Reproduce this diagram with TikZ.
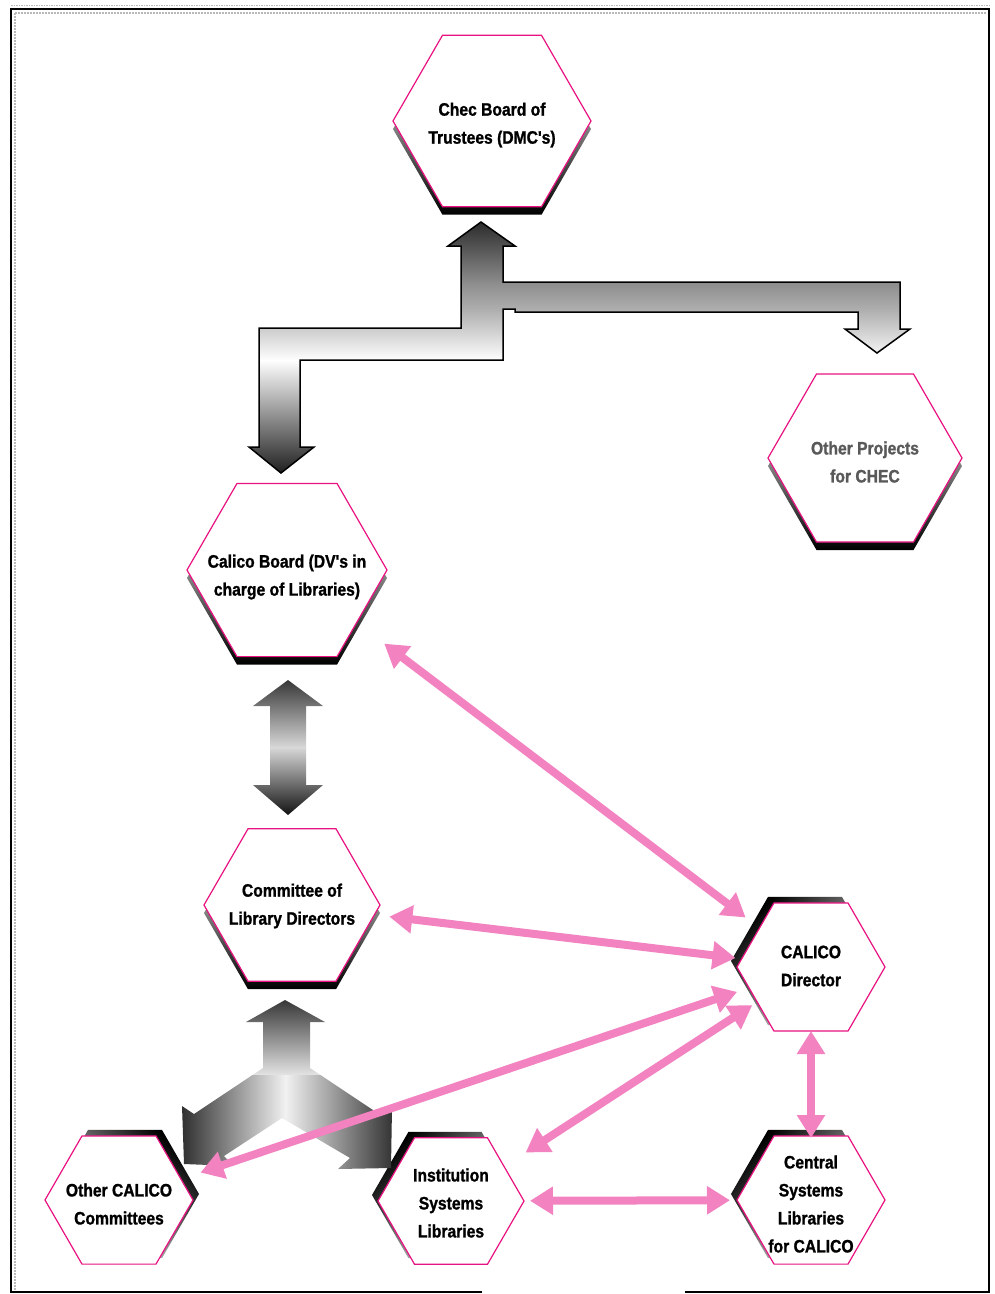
\documentclass[tikz,border=0pt]{standalone}
\usepackage{fontspec}
\newfontfamily\hexfont{Liberation Sans}[FakeStretch=0.87,FakeBold=1.2]
\usetikzlibrary{shapes.geometric,shadows,arrows.meta}

\definecolor{hexpink}{RGB}{232,18,128}
\definecolor{linkpink}{RGB}{242,130,192}

\tikzset{
  hexa/.style={regular polygon, regular polygon sides=6, inner sep=0pt,
    draw=hexpink, line width=1.2pt, fill=white},
  hextext/.style={align=center, inner sep=0pt,
    font=\hexfont\bfseries\fontsize{18}{28}\selectfont},
  dropshadow/.style={general shadow={top color=white, bottom color=black,
    shadow yshift=-8pt}},
  leftshadow/.style={general shadow={top color=black, bottom color=white,
    shading angle=45, shadow xshift=-6pt, shadow yshift=6pt}},
  rightshadow/.style={general shadow={top color=black, bottom color=white,
    shading angle=-45, shadow xshift=6pt, shadow yshift=6pt}},
  pinklink/.style={draw=linkpink, line width=8pt,
    >={Triangle[width=27pt,length=23pt]}, <->},
}

\begin{document}
\begin{tikzpicture}[x=1pt,y=-1pt]
    \useasboundingbox (0,0) rectangle (995,1294);
    %draw frame
    \draw[gray!55, line width=1.5pt, densely dotted] (11,5.5) -- (989,5.5);
    \draw[gray!55, line width=2pt, densely dotted] (14.5,1290) -- (14.5,12.5) -- (986,12.5);
    \draw[line width=2.5pt] (482,1292) -- (11,1292) -- (11,9) -- (989,9) -- (989,1292) -- (685,1292);
    %draw hexagons
    \node[hexa, dropshadow, minimum size=198pt] (chec) at (492,121) {};
    \node[hextext] (chec-t) at (492,125) {Chec Board of\\Trustees (DMC's)};
    \node[hexa, dropshadow, minimum size=194pt] (projects) at (865,458) {};
    \node[hextext, text=black!65] (projects-t) at (865,462) {Other Projects\\for CHEC};
    \node[hexa, dropshadow, minimum size=200pt] (calico) at (287,570) {};
    \node[hextext] (calico-t) at (287,577) {Calico Board (DV's in\\charge of Libraries)};
    \node[hexa, dropshadow, minimum size=176pt] (committee) at (292,905) {};
    \node[hextext] (committee-t) at (292,906) {Committee of\\Library Directors};
    \node[hexa, leftshadow, minimum size=148pt] (director) at (811,967) {};
    \node[hextext] (director-t) at (811,966) {CALICO\\Director};
    \node[hexa, rightshadow, minimum size=148pt] (others) at (119,1200) {};
    \node[hextext] (others-t) at (119,1204) {Other CALICO\\Committees};
    \node[hexa, leftshadow, minimum size=146pt] (institution) at (451,1201) {};
    \node[hextext] (institution-t) at (451,1203) {Institution\\Systems\\Libraries};
    \node[hexa, leftshadow, minimum size=148pt] (central) at (811,1200) {};
    \node[hextext] (central-t) at (811,1204) {Central\\Systems\\Libraries\\for CALICO};
    %draw gray block arrows
    \def\bracketarrow{(481,222) -- (515,246) -- (503,246) -- (503,282) -- (900,282) -- (900,329) -- (910,329) -- (877,353) -- (845,329) -- (858,329) -- (858,312) -- (515,312) -- (515,309) -- (503,309) -- (503,360) -- (300,360) -- (300,447) -- (314,447) -- (281,473) -- (249,447) -- (259,447) -- (259,328) -- (461,328) -- (461,246) -- (448,246) -- cycle}
    \begin{scope}
        \clip \bracketarrow;
        \shade[top color=black!85, bottom color=black!45] (240,218) rectangle (920,283);
        \shade[top color=black!45, bottom color=black!30] (240,282) rectangle (920,313);
        \shade[top color=black!30, bottom color=white] (240,312) rectangle (920,361);
        \shade[top color=white, bottom color=black!90] (240,360) rectangle (920,476);
    \end{scope}
    \draw[line width=1.5pt] \bracketarrow;
    \def\doublearrow{(288,680) -- (323,706) -- (306,706) -- (306,785) -- (323,785) -- (288,815) -- (253,785) -- (270,785) -- (270,706) -- (253,706) -- cycle}
    \begin{scope}
        \clip \doublearrow;
        \shade[top color=black!80, bottom color=black!15] (250,678) rectangle (326,748);
        \shade[top color=black!15, bottom color=black!95] (250,747) rectangle (326,817);
    \end{scope}
    \def\threeway{(285,1000) -- (325,1022) -- (310,1022) -- (310,1068) -- (376,1112) -- (392,1108) -- (391,1168) -- (338,1169) -- (350,1158) -- (282,1118) -- (224,1156) -- (234,1166) -- (184,1164) -- (182,1106) -- (194,1114) -- (263,1068) -- (263,1022) -- (246,1022) -- cycle}
    \begin{scope}
        \clip \threeway;
        \shade[top color=black!80, bottom color=black!10] (170,998) rectangle (400,1076);
        \shade[left color=black!90, right color=black!5] (170,1075) rectangle (286,1175);
        \shade[left color=black!5, right color=black!85] (285,1075) rectangle (400,1175);
    \end{scope}
    %draw pink links
    \draw[pinklink, shorten <=122pt, shorten >=82pt] (calico.center) -- (director.center);
    \draw[pinklink, shorten <=98pt, shorten >=76pt] (committee.center) -- (director.center);
    \draw[pinklink, shorten <=86pt, shorten >=78pt] (others.center) -- (director.center);
    \draw[pinklink, shorten <=89pt, shorten >=70pt] (institution.center) -- (director.center);
    \draw[pinklink, shorten <=79pt, shorten >=81pt] (institution.center) -- (central.center);
    \draw[pinklink, shorten <=64pt, shorten >=62pt] (director.center) -- (central.center);
\end{tikzpicture}
\end{document}
